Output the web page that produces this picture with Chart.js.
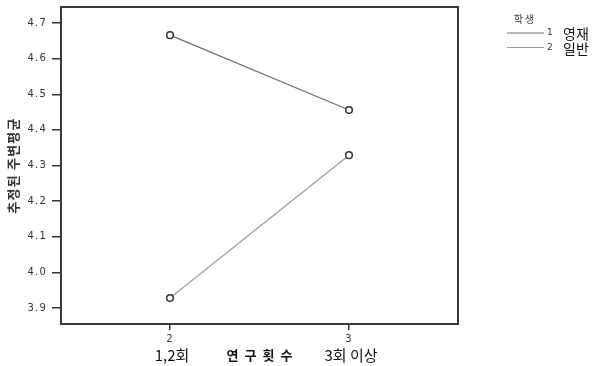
<!DOCTYPE html>
<html>
<head>
<meta charset="utf-8">
<script src="https://cdn.jsdelivr.net/npm/chart.js@4.4.1/dist/chart.umd.min.js"></script>
<style>
  html, body { margin: 0; padding: 0; background: #fff; }
</style>
</head>
<body>
<canvas id="c" width="596" height="366"></canvas>
<script>
// Estimated marginal means by number of research sessions, per student group
const xValues = [2, 3];
const xCategoryNames = ['1,2회', '3회 이상'];
const seriesCodes = ['1', '2'];
const seriesNames = ['영재', '일반'];
const giftedMeans = [4.666, 4.456];
const generalMeans = [3.928, 4.329];
const yTicks = [3.9, 4.0, 4.1, 4.2, 4.3, 4.4, 4.5, 4.6, 4.7];
const legendTitle = '학생';
const xTitle = '연구횟수';
const yTitle = '추정된 주변평균';

const lineColors = ['#6e6e6e', '#9c9c9c'];
const tickFont = { family: 'DejaVu Sans', size: 10 };

function toPoints(values) {
  return values.map((v, i) => ({ x: xValues[i], y: v }));
}

// Spaced small labels for the axes, normal spacing for the marks
const spacingPlugin = {
  id: 'spacing',
  beforeDraw(chart) { chart.ctx.letterSpacing = '1.2px'; },
  beforeDatasetsDraw(chart) { chart.ctx.letterSpacing = '0px'; }
};

// Box around the plotting area
const framePlugin = {
  id: 'frame',
  afterDatasetsDraw(chart) {
    const { ctx, chartArea: a } = chart;
    ctx.save();
    ctx.strokeStyle = '#383838';
    ctx.lineWidth = 2;
    ctx.strokeRect(a.left, a.top, a.right - a.left, a.bottom - a.top);
    ctx.restore();
  }
};

// Category names and axis title under the x ticks
const xNamesPlugin = {
  id: 'xNames',
  afterDraw(chart) {
    const { ctx, chartArea: a } = chart;
    const xs = chart.scales.x;
    ctx.save();
    ctx.fillStyle = '#111';
    ctx.textAlign = 'center';
    ctx.textBaseline = 'middle';
    ctx.letterSpacing = '0px';
    ctx.font = '15px "Noto Sans CJK KR"';
    xValues.forEach((v, i) => {
      ctx.fillText(xCategoryNames[i], xs.getPixelForValue(v) + 2, 355);
    });
    ctx.letterSpacing = '6px';
    ctx.font = 'bold 13px "Noto Sans CJK KR"';
    ctx.fillText(xTitle, (a.left + a.right) / 2 + 3, 355);
    ctx.restore();
  }
};

// Legend: group title, line sample, code and name
const legendPlugin = {
  id: 'groupLegend',
  afterDraw(chart) {
    const ctx = chart.ctx;
    ctx.save();
    ctx.letterSpacing = '2px';
    ctx.fillStyle = '#333';
    ctx.textAlign = 'center';
    ctx.textBaseline = 'middle';
    ctx.font = '10px "Noto Sans CJK KR"';
    ctx.fillText(legendTitle, 525, 19);
    chart.data.datasets.forEach((ds, i) => {
      const y = 33 + i * 14.5;
      ctx.strokeStyle = ds.borderColor;
      ctx.lineWidth = 1.2;
      ctx.beginPath();
      ctx.moveTo(507, y);
      ctx.lineTo(544, y);
      ctx.stroke();
      ctx.letterSpacing = '0px';
      ctx.textAlign = 'left';
      ctx.fillStyle = '#333';
      ctx.font = '9px "DejaVu Sans"';
      ctx.fillText(seriesCodes[i], 547, y);
      ctx.fillStyle = '#111';
      ctx.font = '14px "Noto Sans CJK KR"';
      ctx.fillText(seriesNames[i], 563, y + 1);
    });
    ctx.restore();
  }
};

new Chart(document.getElementById('c'), {
  type: 'line',
  data: {
    datasets: [giftedMeans, generalMeans].map((vals, i) => ({
      label: seriesNames[i],
      data: toPoints(vals),
      borderColor: lineColors[i],
      borderWidth: 1.2,
      pointRadius: 3.3,
      pointBorderWidth: 1.5,
      pointBorderColor: '#333',
      pointBackgroundColor: '#fff',
      pointHoverRadius: 3.3,
      tension: 0,
      clip: false
    }))
  },
  options: {
    responsive: false,
    animation: false,
    devicePixelRatio: 1,
    layout: { padding: { left: 0, top: 7, right: 138, bottom: 0 } },
    plugins: {
      legend: { display: false },
      tooltip: { enabled: false }
    },
    scales: {
      x: {
        type: 'linear',
        min: 1.391,
        max: 3.609,
        afterBuildTicks(s) { s.ticks = xValues.map(v => ({ value: v })); },
        afterFit(s) { s.height = 42; s.paddingLeft = 0; s.paddingRight = 0; },
        grid: { drawOnChartArea: false, drawTicks: true, tickLength: 6, color: '#333', lineWidth: 1.5 },
        border: { display: false },
        ticks: { font: tickFont, color: '#333', padding: 3, maxRotation: 0, autoSkip: false,
                 callback: v => String(v) }
      },
      y: {
        min: 3.855,
        max: 4.745,
        afterBuildTicks(s) { s.ticks = yTicks.map(v => ({ value: v })); },
        afterFit(s) { s.width = 61; s.paddingTop = 0; s.paddingBottom = 0; },
        grid: { drawOnChartArea: false, drawTicks: true, tickLength: 9, color: '#333', lineWidth: 1.5 },
        border: { display: false },
        ticks: { font: tickFont, color: '#333', padding: 5, autoSkip: false,
                 callback: v => Number(v).toFixed(1) },
        title: {
          display: true,
          text: yTitle,
          color: '#333',
          font: { family: 'Noto Sans CJK KR', size: 13, weight: 'bold' },
          padding: { top: 5, bottom: 0 }
        }
      }
    }
  },
  plugins: [spacingPlugin, framePlugin, xNamesPlugin, legendPlugin]
});
</script>
</body>
</html>
